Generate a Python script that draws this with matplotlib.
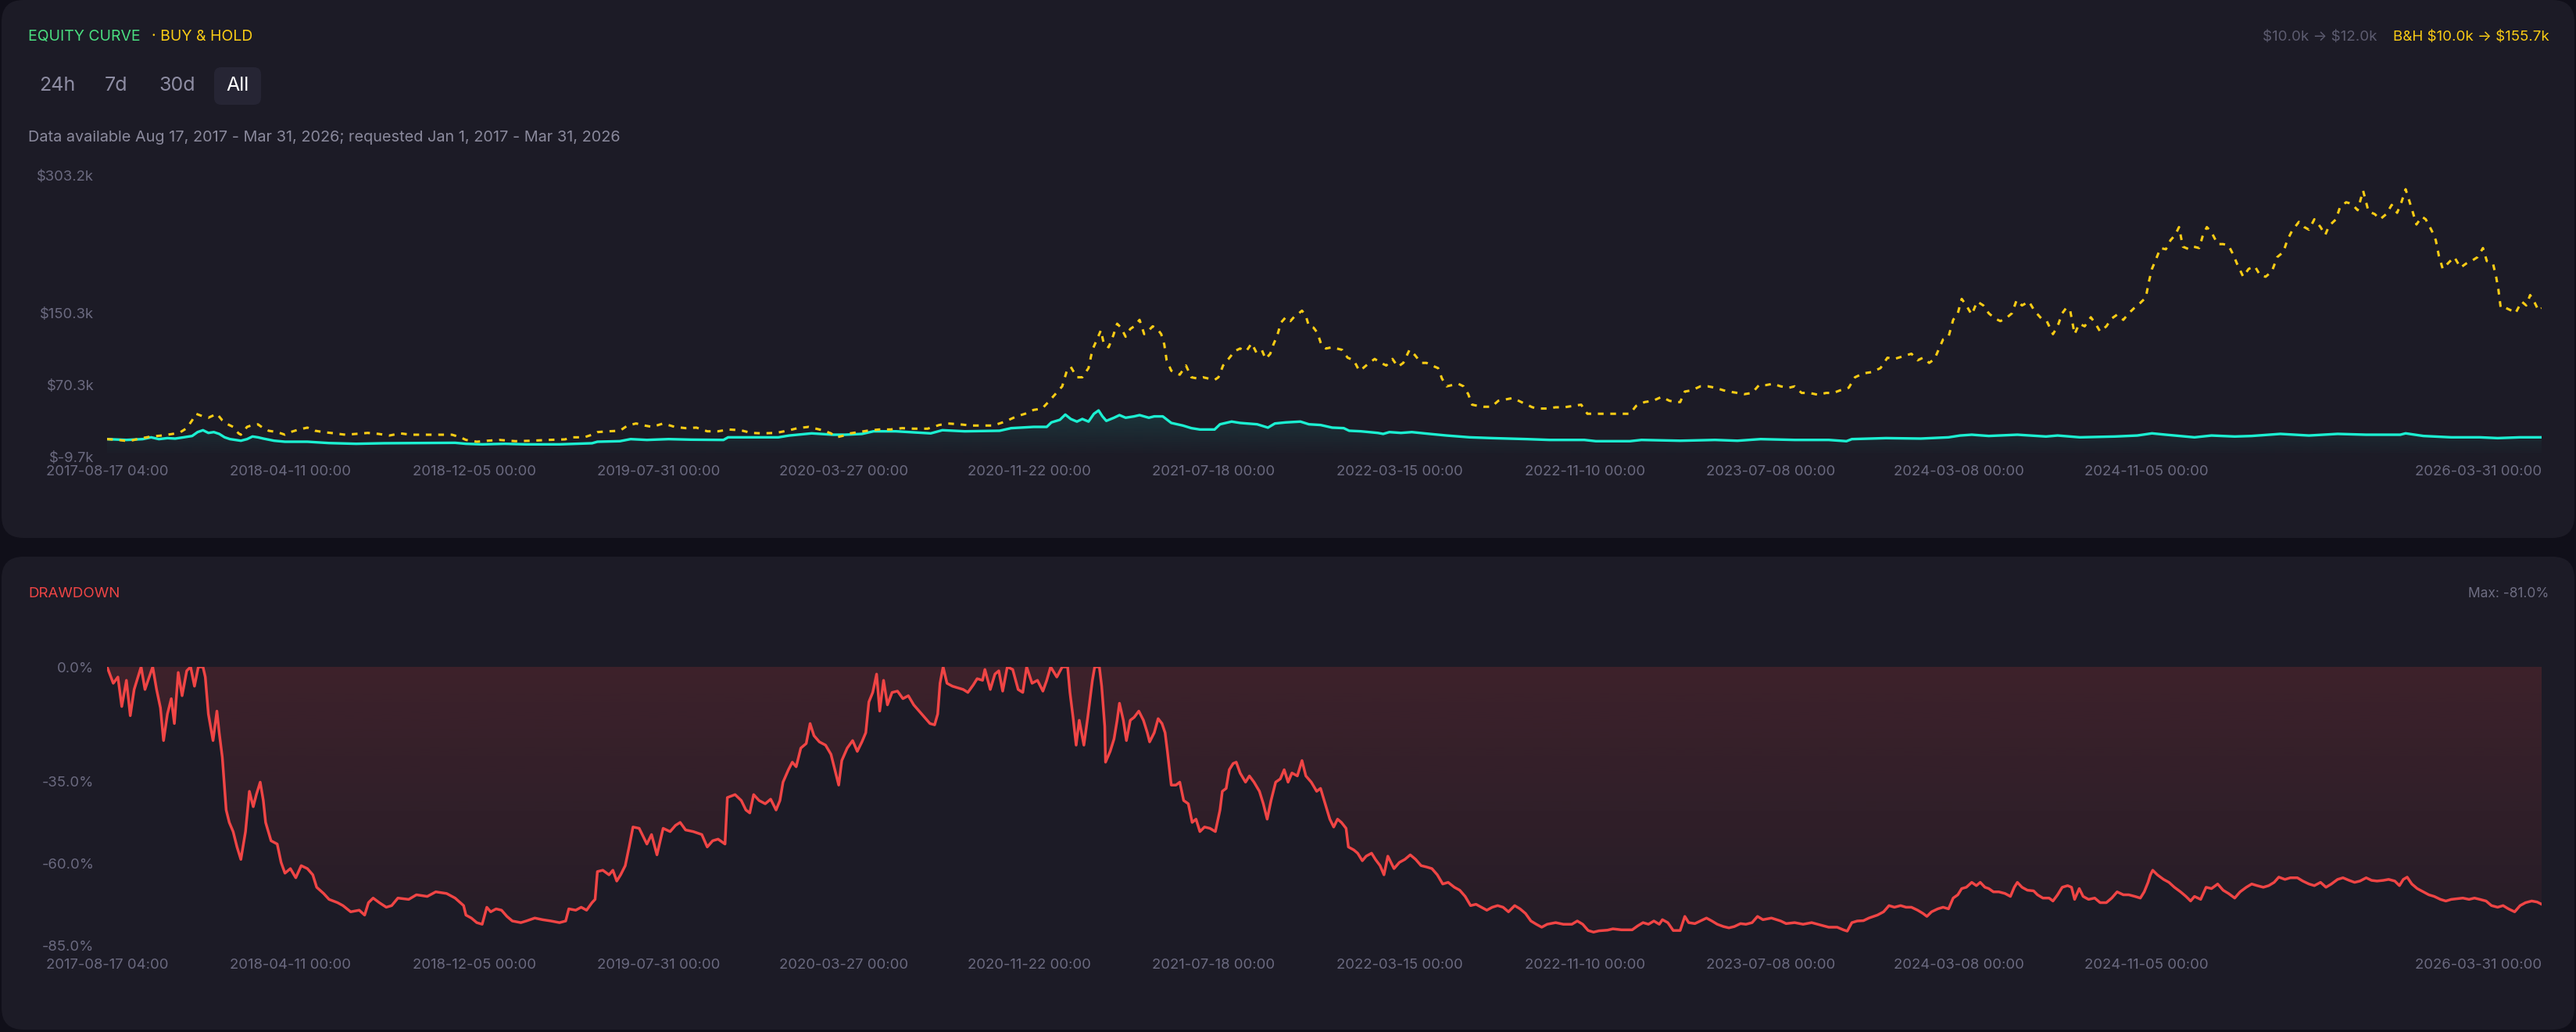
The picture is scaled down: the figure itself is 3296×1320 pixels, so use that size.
import numpy as np
import pandas as pd
import matplotlib
matplotlib.use("Agg")
import matplotlib.pyplot as plt
import matplotlib.dates as mdates
import matplotlib.colors as mcolors
from matplotlib.patches import FancyBboxPatch

plt.rcParams['font.family'] = ['Inter', 'DejaVu Sans']

# ---------------- data ----------------
start_time = "2017-08-17 04:00"
end_time = "2026-03-31 00:00"

# strategy equity (k$), x = days since start
eq_day = [0, 25, 46, 57, 67, 78, 88, 99, 110, 117, 124, 131, 138, 145, 152, 159, 173, 181, 188, 195, 202, 216, 230,
          259, 287, 322, 358, 400, 450, 464, 485, 514, 542, 585, 627, 634, 663, 677, 698, 726, 755, 797, 803, 840,
          868, 882, 911, 939, 954, 976, 991, 1020, 1065, 1080, 1109, 1154, 1169, 1198, 1215, 1221, 1232, 1239, 1246,
          1254, 1261, 1269, 1276, 1282, 1287, 1292, 1302, 1309, 1317, 1328, 1335, 1347, 1354, 1365, 1376, 1391, 1402,
          1413, 1432, 1439, 1454, 1465, 1487, 1501, 1510, 1524, 1543, 1554, 1569, 1584, 1599, 1606, 1621, 1643, 1650,
          1658, 1673, 1687, 1710, 1732, 1762, 1791, 1836, 1865, 1910, 1925, 1969, 1984, 2034, 2079, 2108, 2138, 2182,
          2226, 2249, 2256, 2300, 2345, 2381, 2396, 2411, 2433, 2470, 2507, 2522, 2551, 2596, 2625, 2644, 2662, 2699,
          2721, 2751, 2773, 2810, 2847, 2884, 2921, 2965, 2972, 2995, 3031, 3068, 3091, 3120, 3148]
eq_val = [10.0, 9.1, 10.0, 12.0, 10.0, 11.1, 10.6, 12.0, 13.5, 17.8, 19.9, 16.9, 17.8, 15.8, 12.0, 10.0, 8.2, 10.0,
          12.9, 12.0, 10.6, 8.2, 7.1, 7.1, 5.6, 4.8, 5.4, 5.6, 5.9, 4.8, 4.2, 4.8, 4.2, 4.2, 5.4, 7.1, 7.7, 10.0, 9.1,
          10.0, 9.4, 9.1, 12.0, 12.0, 12.0, 14.0, 16.4, 14.9, 14.9, 15.8, 18.7, 18.7, 16.4, 19.9, 18.7, 19.3, 22.2,
          23.6, 23.6, 28.6, 31.5, 37.3, 32.4, 29.5, 32.4, 29.5, 38.2, 41.9, 35.3, 30.3, 33.8, 36.7, 33.8, 35.3, 36.7,
          33.8, 35.3, 35.3, 28.0, 25.1, 22.2, 20.7, 20.7, 26.5, 29.5, 28.0, 26.5, 22.8, 27.4, 28.6, 29.5, 26.5, 25.7,
          22.8, 22.2, 19.3, 18.7, 16.9, 15.8, 17.8, 16.9, 17.8, 15.8, 14.0, 12.0, 11.1, 10.0, 9.1, 9.1, 7.7, 7.7, 9.1,
          8.2, 9.1, 8.2, 10.0, 9.1, 9.1, 7.7, 10.0, 11.1, 10.6, 12.0, 14.0, 14.9, 13.5, 14.9, 12.9, 14.0, 12.0, 12.9,
          14.0, 16.4, 14.9, 12.0, 14.0, 12.9, 13.5, 15.8, 14.0, 15.8, 14.9, 14.9, 16.4, 13.5, 12.0, 12.0, 11.1, 12.0,
          12.0]

# buy & hold equity (k$)
bh_day = [0, 14, 28, 42, 57, 71, 85, 95, 103, 110, 115, 124, 131, 142, 149, 156, 163, 170, 173, 181, 188, 195, 202,
          209, 220, 230, 237, 248, 259, 269, 280, 294, 308, 322, 337, 351, 365, 379, 393, 414, 429, 446, 457, 464,
          478, 492, 507, 528, 549, 570, 592, 602, 617, 627, 634, 648, 663, 673, 684, 695, 705, 719, 734, 748, 762,
          776, 790, 804, 819, 833, 847, 865, 879, 893, 907, 925, 936, 943, 953, 961, 983, 998, 1013, 1028, 1043,
          1061, 1076, 1087, 1102, 1117, 1132, 1146, 1161, 1176, 1187, 1198, 1209, 1217, 1226, 1235, 1241, 1246,
          1254, 1261, 1269, 1274, 1280, 1285, 1289, 1295, 1301, 1306, 1311, 1317, 1323, 1328, 1335, 1341, 1347,
          1352, 1358, 1363, 1367, 1370, 1376, 1382, 1387, 1395, 1402, 1410, 1417, 1424, 1432, 1437, 1443, 1450,
          1458, 1465, 1473, 1480, 1486, 1493, 1498, 1504, 1508, 1513, 1518, 1524, 1530, 1536, 1541, 1545, 1550,
          1554, 1560, 1565, 1570, 1576, 1584, 1590, 1597, 1604, 1612, 1619, 1624, 1632, 1639, 1647, 1654, 1662,
          1669, 1676, 1684, 1691, 1699, 1706, 1713, 1721, 1726, 1732, 1739, 1747, 1754, 1760, 1765, 1773, 1780,
          1790, 1799, 1808, 1817, 1825, 1832, 1843, 1850, 1862, 1873, 1884, 1895, 1906, 1914, 1925, 1939, 1954,
          1969, 1977, 1988, 1999, 2010, 2020, 2028, 2034, 2040, 2049, 2060, 2070, 2079, 2090, 2097, 2108, 2117,
          2127, 2136, 2145, 2154, 2164, 2175, 2182, 2191, 2201, 2212, 2223, 2232, 2241, 2252, 2260, 2271, 2282,
          2293, 2302, 2311, 2322, 2333, 2341, 2348, 2356, 2363, 2368, 2374, 2381, 2387, 2393, 2398, 2404, 2411,
          2418, 2426, 2433, 2441, 2448, 2455, 2463, 2469, 2476, 2485, 2492, 2501, 2508, 2516, 2522, 2528, 2533,
          2538, 2544, 2550, 2557, 2565, 2571, 2577, 2585, 2592, 2599, 2607, 2614, 2621, 2629, 2636, 2640, 2644,
          2649, 2655, 2662, 2668, 2674, 2679, 2684, 2692, 2698, 2705, 2710, 2715, 2721, 2729, 2736, 2743, 2749,
          2754, 2762, 2769, 2777, 2784, 2791, 2799, 2806, 2814, 2819, 2825, 2834, 2841, 2847, 2854, 2862, 2868,
          2873, 2882, 2887, 2895, 2902, 2910, 2917, 2924, 2932, 2939, 2947, 2954, 2961, 2966, 2972, 2980, 2986,
          2993, 2998, 3006, 3011, 3015, 3020, 3028, 3035, 3043, 3050, 3057, 3065, 3072, 3077, 3085, 3089, 3092,
          3095, 3102, 3109, 3114, 3122, 3128, 3133, 3139, 3144, 3148]
bh_val = [10.0, 9.1, 7.7, 10.6, 12.9, 14.0, 15.8, 17.8, 22.2, 30.9, 38.2, 35.3, 33.8, 38.2, 30.9, 26.5, 23.6, 16.4,
          14.9, 23.6, 25.7, 26.5, 22.2, 19.3, 17.8, 14.9, 17.8, 20.7, 22.8, 19.3, 17.8, 16.4, 14.9, 15.8, 16.9, 15.8,
          14.0, 16.4, 14.9, 14.9, 14.9, 14.9, 12.0, 9.1, 7.1, 8.2, 9.1, 7.7, 8.2, 9.1, 9.7, 12.0, 12.0, 14.9, 17.8,
          18.7, 19.3, 25.1, 27.4, 25.1, 23.6, 27.4, 23.6, 22.2, 22.8, 18.7, 18.7, 20.7, 19.9, 16.9, 16.4, 16.9, 19.3,
          22.2, 23.6, 19.9, 16.4, 12.0, 14.0, 16.4, 19.3, 20.7, 20.7, 22.2, 21.6, 21.6, 25.7, 27.4, 26.5, 25.1, 25.1,
          25.1, 29.5, 35.3, 38.2, 42.5, 44.0, 51.2, 60.0, 68.7, 86.1, 90.5, 78.8, 78.8, 89.0, 109.3, 121.0, 131.1,
          115.1, 112.2, 125.3, 138.4, 134.0, 123.9, 132.6, 135.5, 142.7, 126.8, 131.1, 135.5, 132.6, 126.8, 115.1,
          97.7, 86.1, 83.2, 81.7, 91.9, 78.8, 77.4, 78.8, 77.4, 75.9, 78.8, 91.9, 99.2, 107.9, 110.8, 107.9, 116.6,
          106.4, 109.3, 99.2, 105.0, 115.1, 125.3, 139.8, 145.6, 141.3, 147.1, 150.0, 152.9, 147.1, 135.5, 134.0,
          128.2, 115.1, 110.8, 112.2, 110.8, 109.3, 100.6, 97.7, 86.1, 89.0, 94.8, 99.2, 94.8, 91.9, 99.2, 90.5,
          94.8, 109.3, 103.5, 94.8, 94.8, 91.9, 89.0, 77.4, 68.7, 70.1, 71.6, 68.7, 60.0, 48.3, 46.9, 46.0, 46.0,
          52.7, 54.1, 55.6, 52.7, 49.8, 45.4, 44.0, 44.0, 45.4, 45.4, 46.9, 48.3, 38.2, 38.2, 38.2, 38.2, 38.2, 46.9,
          51.2, 52.7, 57.0, 52.7, 51.2, 51.2, 62.9, 64.3, 68.7, 68.7, 67.2, 64.3, 62.9, 61.4, 60.0, 61.4, 70.1, 70.1,
          71.6, 68.7, 67.2, 68.7, 61.4, 61.4, 59.4, 61.4, 61.4, 64.3, 67.2, 78.8, 83.2, 84.6, 89.0, 100.6, 99.2,
          102.1, 105.0, 97.7, 100.6, 94.8, 99.2, 109.3, 121.0, 123.9, 142.7, 150.0, 166.0, 158.7, 148.5, 163.1,
          158.7, 150.0, 144.2, 141.3, 144.2, 150.0, 164.5, 158.7, 163.1, 152.9, 144.2, 141.3, 126.8, 135.5, 150.0,
          155.8, 154.4, 126.8, 138.4, 135.5, 145.6, 138.4, 129.7, 135.5, 144.2, 148.5, 142.7, 150.0, 155.8, 161.6,
          167.4, 184.9, 199.4, 209.6, 222.6, 221.2, 231.3, 237.1, 245.9, 224.1, 221.2, 224.1, 222.6, 237.1, 245.9,
          240.1, 227.0, 227.0, 225.5, 215.4, 205.2, 190.7, 199.4, 202.3, 192.1, 190.7, 196.5, 212.5, 218.3, 231.3,
          241.5, 251.7, 245.9, 243.0, 254.6, 245.9, 237.1, 247.3, 254.6, 267.7, 273.5, 272.0, 264.7, 286.5, 263.3,
          260.4, 254.6, 260.4, 270.6, 261.8, 272.0, 288.0, 266.2, 248.8, 257.5, 254.6, 241.5, 231.3, 213.9, 199.4,
          206.7, 212.5, 200.8, 205.2, 208.1, 212.5, 222.6, 208.1, 205.2, 190.7, 176.1, 155.8, 155.8, 152.9, 150.0,
          163.1, 158.7, 170.3, 161.6, 152.9, 155.7]

# strategy drawdown (%)
dd_day = [0, 8, 14, 19, 25, 30, 35, 44, 49, 59, 64, 69, 73, 78, 83, 87, 92, 97, 103, 108, 113, 118, 124, 127, 131,
          137, 142, 145, 149, 154, 158, 163, 168, 173, 179, 184, 189, 193, 198, 202, 205, 212, 220, 225, 230, 237,
          244, 251, 259, 266, 271, 280, 287, 298, 305, 315, 326, 333, 338, 344, 352, 361, 368, 376, 390, 400, 414,
          425, 439, 450, 461, 464, 471, 478, 485, 491, 496, 503, 510, 517, 524, 535, 542, 553, 563, 574, 585, 593,
          597, 606, 613, 620, 627, 631, 634, 641, 649, 654, 659, 664, 670, 675, 680, 688, 692, 698, 704, 711, 719,
          728, 735, 741, 748, 758, 769, 776, 783, 790, 799, 802, 812, 820, 826, 831, 836, 843, 851, 858, 865, 870,
          874, 881, 886, 891, 897, 904, 909, 914, 921, 929, 936, 941, 946, 950, 957, 964, 970, 976, 981, 985, 990,
          995, 999, 1004, 1009, 1015, 1022, 1029, 1036, 1043, 1050, 1057, 1064, 1070, 1074, 1077, 1081, 1086, 1093,
          1100, 1107, 1113, 1120, 1125, 1132, 1135, 1142, 1148, 1153, 1158, 1164, 1171, 1178, 1184, 1189, 1196,
          1203, 1210, 1215, 1220, 1228, 1235, 1242, 1245, 1249, 1253, 1257, 1263, 1268, 1274, 1277, 1283, 1286,
          1290, 1291, 1297, 1302, 1306, 1309, 1314, 1318, 1323, 1328, 1334, 1340, 1345, 1348, 1354, 1359, 1364,
          1368, 1371, 1376, 1382, 1387, 1392, 1398, 1403, 1408, 1413, 1419, 1426, 1433, 1439, 1442, 1447, 1451,
          1456, 1460, 1465, 1472, 1477, 1483, 1490, 1495, 1500, 1505, 1511, 1517, 1522, 1527, 1532, 1539, 1545,
          1550, 1557, 1564, 1569, 1575, 1581, 1586, 1591, 1596, 1602, 1605, 1612, 1617, 1623, 1628, 1635, 1640,
          1646, 1651, 1656, 1664, 1671, 1678, 1685, 1692, 1699, 1706, 1713, 1720, 1727, 1734, 1742, 1749, 1756,
          1763, 1770, 1777, 1784, 1791, 1798, 1805, 1812, 1820, 1827, 1834, 1841, 1848, 1855, 1862, 1873, 1883,
          1894, 1901, 1908, 1915, 1922, 1929, 1940, 1947, 1958, 1972, 1979, 1986, 1993, 2000, 2007, 2011, 2018,
          2025, 2034, 2040, 2045, 2053, 2060, 2068, 2075, 2082, 2090, 2097, 2104, 2112, 2119, 2127, 2134, 2141,
          2152, 2164, 2171, 2182, 2193, 2204, 2215, 2226, 2237, 2245, 2250, 2256, 2263, 2271, 2278, 2289, 2297,
          2304, 2311, 2319, 2326, 2333, 2341, 2348, 2353, 2359, 2367, 2374, 2381, 2387, 2393, 2398, 2404, 2411,
          2417, 2422, 2428, 2433, 2439, 2446, 2454, 2461, 2466, 2470, 2476, 2483, 2491, 2496, 2503, 2511, 2516,
          2522, 2528, 2535, 2540, 2544, 2550, 2555, 2562, 2570, 2577, 2585, 2592, 2599, 2607, 2614, 2622, 2629,
          2634, 2639, 2642, 2645, 2651, 2659, 2666, 2673, 2681, 2688, 2694, 2699, 2707, 2714, 2721, 2729, 2736,
          2743, 2751, 2758, 2766, 2773, 2780, 2788, 2795, 2802, 2808, 2816, 2823, 2832, 2839, 2847, 2854, 2862,
          2869, 2876, 2884, 2891, 2899, 2906, 2913, 2921, 2928, 2935, 2943, 2950, 2958, 2964, 2969, 2974, 2980,
          2987, 2995, 3002, 3009, 3017, 3024, 3031, 3039, 3046, 3054, 3061, 3068, 3076, 3083, 3091, 3098, 3105,
          3113, 3120, 3127, 3135, 3142, 3148]
dd_val = [0.0, -5.0, -3.1, -12.1, -4.1, -14.9, -6.9, 0.0, -6.9, 0.0, -6.9, -12.5, -22.5, -14.4, -9.7, -17.3, -1.7,
          -8.8, -1.2, 0.0, -5.9, 0.0, 0.0, -3.1, -14.4, -22.5, -13.5, -20.1, -27.6, -43.7, -47.5, -50.3, -55.0,
          -58.8, -50.3, -38.0, -42.7, -39.0, -35.2, -40.8, -47.5, -53.1, -54.1, -59.7, -63.0, -61.6, -64.4, -60.7,
          -61.6, -63.5, -67.3, -69.2, -71.0, -72.0, -72.9, -74.8, -74.3, -75.8, -72.0, -70.6, -72.0, -73.4, -72.9,
          -70.6, -71.0, -69.6, -70.1, -68.7, -69.2, -70.6, -72.9, -75.8, -76.7, -78.1, -78.6, -73.4, -74.8, -73.9,
          -74.3, -76.2, -77.6, -78.1, -77.6, -76.7, -77.2, -77.6, -78.1, -77.6, -73.9, -74.3, -73.4, -74.3, -72.0,
          -71.0, -62.5, -62.1, -63.5, -62.1, -65.4, -63.5, -60.7, -55.0, -48.9, -49.3, -51.2, -54.1, -51.2, -57.4,
          -49.3, -50.3, -48.4, -47.5, -49.8, -50.3, -51.2, -55.0, -53.1, -52.6, -54.1, -39.9, -39.0, -40.8, -43.7,
          -44.6, -39.0, -40.8, -41.8, -40.4, -43.7, -40.8, -35.2, -31.4, -29.1, -30.5, -24.8, -23.4, -17.3, -21.0,
          -22.9, -23.9, -26.7, -31.4, -36.1, -28.6, -24.8, -22.5, -25.8, -22.9, -20.1, -10.7, -7.8, -2.2, -13.5,
          -4.1, -11.6, -7.8, -7.4, -9.7, -8.8, -11.6, -13.5, -15.4, -17.3, -17.7, -14.4, -5.0, 0.0, -5.0, -5.9,
          -6.4, -6.9, -7.8, -5.5, -3.6, -4.1, -0.8, -6.9, -2.2, -1.2, -7.4, 0.0, -0.8, -6.9, -7.8, 0.0, -5.0, -4.1,
          -7.4, -4.1, 0.0, -3.1, 0.0, 0.0, -7.8, -15.4, -23.9, -16.3, -23.9, -15.4, -4.1, 0.0, 0.0, -5.9, -18.2,
          -29.1, -25.8, -22.0, -16.3, -11.1, -16.3, -22.5, -16.3, -15.4, -13.5, -16.3, -20.1, -22.9, -20.1, -15.8,
          -17.3, -20.1, -25.8, -36.1, -36.1, -35.2, -40.8, -41.8, -47.5, -46.5, -50.3, -48.9, -49.3, -50.3, -43.7,
          -38.0, -37.1, -31.4, -29.5, -29.1, -32.4, -35.2, -33.3, -35.2, -38.0, -41.8, -46.5, -40.8, -35.2, -34.2,
          -31.4, -35.2, -32.4, -33.3, -28.6, -33.3, -35.2, -38.0, -37.1, -41.8, -46.5, -48.9, -46.5, -47.5, -49.3,
          -55.0, -55.9, -56.9, -59.2, -57.8, -56.9, -58.8, -60.7, -63.5, -57.8, -61.6, -59.7, -58.8, -57.4, -58.8,
          -60.7, -61.1, -61.6, -63.5, -66.3, -65.8, -67.3, -68.2, -70.1, -72.9, -72.5, -73.4, -74.3, -73.4, -72.9,
          -73.4, -74.8, -72.9, -73.9, -75.3, -77.6, -78.6, -79.5, -78.6, -78.1, -78.6, -78.6, -77.6, -78.6, -80.5,
          -81.0, -80.6, -80.4, -80.0, -80.3, -80.3, -79.1, -78.1, -78.6, -77.6, -78.6, -77.2, -78.1, -80.5, -80.5,
          -76.2, -78.1, -78.4, -77.6, -76.7, -77.6, -78.6, -79.3, -79.7, -79.3, -78.4, -78.6, -78.1, -76.2, -77.2,
          -76.7, -77.6, -78.4, -78.1, -78.6, -78.1, -78.8, -79.5, -79.5, -80.3, -80.7, -78.1, -77.6, -77.5, -76.7,
          -75.8, -74.8, -72.9, -73.4, -72.9, -73.4, -73.4, -74.3, -75.3, -76.2, -74.8, -73.9, -73.4, -73.9, -70.6,
          -69.6, -67.7, -67.3, -65.8, -66.8, -65.8, -67.3, -67.7, -68.7, -68.7, -69.2, -70.1, -67.3, -65.8, -67.3,
          -68.2, -68.4, -69.6, -70.6, -70.6, -71.5, -69.6, -67.3, -66.8, -67.3, -71.0, -67.7, -70.1, -71.0, -70.6,
          -72.0, -72.0, -70.6, -68.7, -69.6, -69.6, -70.1, -70.6, -68.7, -65.8, -63.5, -62.1, -63.5, -64.9, -65.8,
          -67.3, -68.7, -70.1, -71.5, -70.1, -71.0, -67.3, -67.7, -66.3, -68.2, -69.2, -70.6, -68.7, -67.3, -66.3,
          -66.8, -67.3, -66.8, -65.8, -64.2, -64.9, -64.4, -64.4, -65.4, -66.3, -66.8, -65.8, -67.3, -66.3, -64.9,
          -64.4, -65.2, -65.8, -65.4, -64.4, -65.2, -65.4, -65.2, -64.9, -65.4, -66.8, -64.9, -64.2, -66.3, -67.7,
          -68.7, -69.6, -70.1, -71.0, -71.5, -71.0, -70.8, -70.6, -71.0, -70.6, -71.0, -71.5, -72.9, -73.4, -72.9,
          -73.9, -74.8, -72.9, -72.0, -71.5, -71.8, -72.5]

x_tick_labels = ["2017-08-17 04:00", "2018-04-11 00:00", "2018-12-05 00:00", "2019-07-31 00:00",
                 "2020-03-27 00:00", "2020-11-22 00:00", "2021-07-18 00:00", "2022-03-15 00:00",
                 "2022-11-10 00:00", "2023-07-08 00:00", "2024-03-08 00:00", "2024-11-05 00:00",
                 "2026-03-31 00:00"]
eq_ticks = [-9.7, 70.3, 150.3, 303.2]
dd_ticks = [0.0, -35.0, -60.0, -85.0]

strategy_text = "\\$10.0k \u2192 \\$12.0k"
bh_text = "B&H \\$10.0k \u2192 \\$155.7k"
max_dd_text = "Max: -81.0%"
range_buttons = ["24h", "7d", "30d", "All"]
info_text = "Data available Aug 17, 2017 - Mar 31, 2026; requested Jan 1, 2017 - Mar 31, 2026"

# ---------------- style ----------------
W, H = 3296, 1320
OUTER = "#100f19"
CARD = "#1c1b26"
TEAL = "#1cf0d2"
YELLOW = "#facc15"
RED = "#f04545"
GREEN = "#4ade80"
TICK = "#6b6a80"

t0 = pd.Timestamp(start_time)
t_end = pd.Timestamp(end_time)


def to_num(days):
    return mdates.date2num(t0 + pd.to_timedelta(np.asarray(days, dtype=float), unit="D"))


eq_x, bh_x, dd_x = to_num(eq_day), to_num(bh_day), to_num(dd_day)
x0n, x1n = mdates.date2num(t0), mdates.date2num(t_end)
tick_x = mdates.date2num(pd.to_datetime(x_tick_labels))

fig = plt.figure(figsize=(W / 100, H / 100), dpi=100, facecolor=OUTER)

# background canvas in pixel units
bg = fig.add_axes([0, 0, 1, 1])
bg.set_xlim(0, W)
bg.set_ylim(H, 0)
bg.axis("off")
bg.add_patch(FancyBboxPatch((2, 0), W - 4, 688, boxstyle="round,pad=0,rounding_size=28",
                            fc=CARD, ec="none"))
bg.add_patch(FancyBboxPatch((2, 712), W - 4, 605, boxstyle="round,pad=0,rounding_size=28",
                            fc=CARD, ec="none"))

# header texts
bg.text(36, 47, "EQUITY CURVE", color=GREEN, fontsize=14, va="center", ha="left")
bg.text(194, 47, "\u00b7 BUY & HOLD", color=YELLOW, fontsize=14, va="center", ha="left")
bg.add_patch(FancyBboxPatch((274, 86), 60, 48, boxstyle="round,pad=0,rounding_size=9",
                            fc="#262534", ec="none"))
for lbl, cx in zip(range_buttons, [73, 149, 227, 304]):
    bg.text(cx, 110, lbl, color="#ffffff" if lbl == "All" else "#8e8da3", fontsize=18,
            va="center", ha="center")
bg.text(36, 176, info_text, color="#8a899c", fontsize=14.3, va="center", ha="left")
bg.text(3262, 48, bh_text, color=YELLOW, fontsize=13.5, va="center", ha="right")
bg.text(3042, 48, strategy_text, color="#5d5c70", fontsize=13.5, va="center", ha="right")
bg.text(36, 759, "DRAWDOWN", color=RED, fontsize=13.5, va="center", ha="left")
bg.text(3261, 759, max_dd_text, color="#6e6d82", fontsize=12.5, va="center", ha="right")


def gradient_fill(ax, x, y, base, color, a_top, a_bot, y_top, y_bot, z):
    coll = ax.fill_between(x, y, base, facecolor="none", edgecolor="none")
    path = coll.get_paths()[0]
    n = 256
    rgba = np.zeros((n, 1, 4))
    rgba[:, 0, :3] = mcolors.to_rgb(color)
    rgba[:, 0, 3] = np.linspace(a_top, a_bot, n)
    im = ax.imshow(rgba, aspect="auto", extent=[x[0], x[-1], y_bot, y_top], origin="upper",
                   zorder=z, interpolation="bilinear")
    im.set_clip_path(path, transform=ax.transData)


def style_axis(ax, pad_x):
    ax.set_facecolor("none")
    for s in ax.spines.values():
        s.set_visible(False)
    ax.tick_params(axis="both", length=0, colors=TICK, labelsize=13.3)
    ax.tick_params(axis="y", pad=12)
    ax.tick_params(axis="x", pad=pad_x)
    ax.set_xticks(tick_x)
    ax.set_xticklabels(x_tick_labels)
    ticks = ax.xaxis.get_major_ticks()
    ticks[-1].label1.set_horizontalalignment("right")
    ax.set_xlim(x0n, x1n)


# ---- equity axes ----
ax1 = fig.add_axes([137 / W, 1 - 584.3 / H, 3115 / W, 359.7 / H])
gradient_fill(ax1, eq_x, np.array(eq_val), eq_ticks[0], TEAL, 0.14, 0.0, 45, eq_ticks[0], 1)
ax1.plot(eq_x, eq_val, color=TEAL, lw=2.4, zorder=3, solid_joinstyle="round")
ax1.plot(bh_x, bh_val, color=YELLOW, lw=2.2, zorder=4, dashes=(2.4, 2.8))
ax1.set_ylim(eq_ticks[0], eq_ticks[-1])
ax1.set_yticks(eq_ticks)
ax1.set_yticklabels([f"${v:.1f}k" for v in eq_ticks])
style_axis(ax1, 8)

# ---- drawdown axes ----
ax2 = fig.add_axes([137 / W, 1 - 1209 / H, 3115 / W, 356 / H])
gradient_fill(ax2, dd_x, np.array(dd_val), 0.0, RED, 0.16, 0.04, 0.0, -85.0, 1)
ax2.plot(dd_x, dd_val, color=RED, lw=2.5, zorder=3)
ax2.set_ylim(dd_ticks[-1], dd_ticks[0])
ax2.set_yticks(dd_ticks)
ax2.set_yticklabels([f"{v:.1f}%" for v in dd_ticks])
style_axis(ax2, 12)

fig.savefig("out.png", dpi=100, facecolor=OUTER)
